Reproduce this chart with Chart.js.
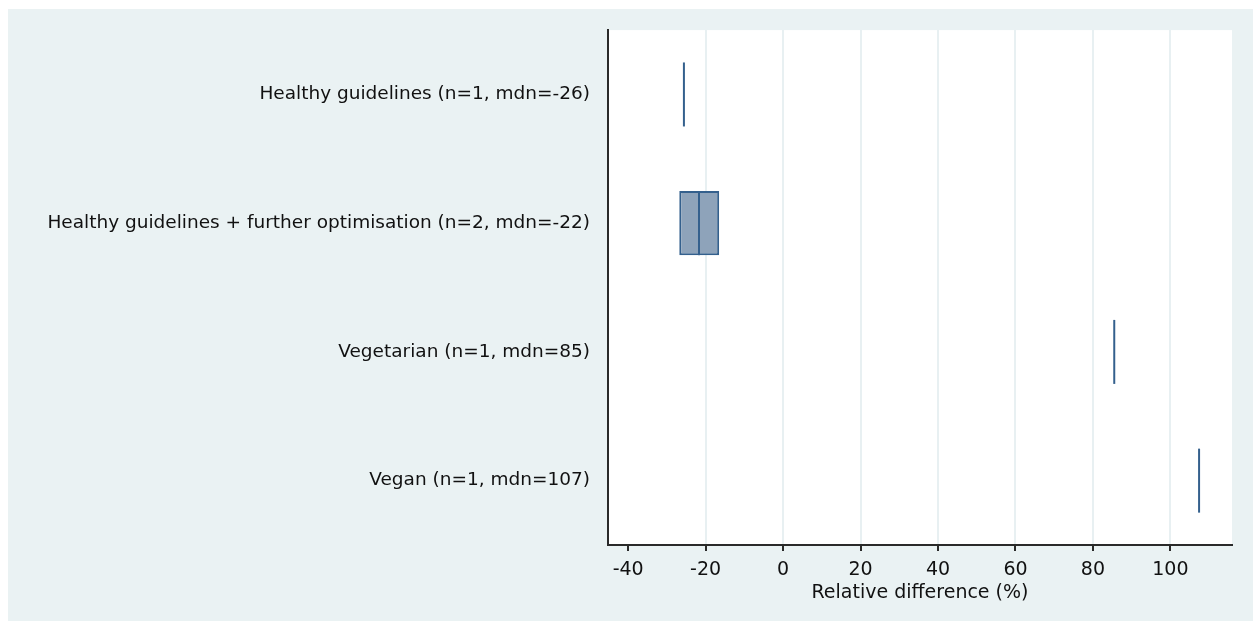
<!DOCTYPE html>
<html>
<head>
<meta charset="utf-8">
<title>Relative difference by diet</title>
<script src="https://cdn.jsdelivr.net/npm/chart.js@4.4.1/dist/chart.umd.min.js"></script>
<style>
  html, body { margin: 0; padding: 0; background: #fff; }
  #chart { position: absolute; left: 8px; top: 9px; background: #EAF2F3; }
</style>
</head>
<body>
<canvas id="chart" width="1245" height="612"></canvas>
<script>
// ---- DATA ----
const categories = [
  'Healthy guidelines (n=1, mdn=-26)',
  'Healthy guidelines + further optimisation (n=2, mdn=-22)',
  'Vegetarian (n=1, mdn=85)',
  'Vegan (n=1, mdn=107)'
];
const q1 = [-25.6, -26.8, 85.5, 107.4];
const q3 = [-25.6, -16.5, 85.5, 107.4];
const medians = [-25.6, -21.7, 85.5, 107.4];
const xTicks = [-40, -20, 0, 20, 40, 60, 80, 100];
const xMin = -45.2;
const xMax = 115.9;
const xTitle = 'Relative difference (%)';

// ---- STYLE ----
const BOX_FILL = '#8EA3BA';
const BOX_LINE = '#34608D';
const AXIS = '#2a2a2a';
const GRID = '#E8F0F2';
const TEXT = '#111';

// white plot region
const plotBg = {
  id: 'plotBg',
  beforeDraw(chart) {
    const { ctx, chartArea: a } = chart;
    ctx.save();
    ctx.fillStyle = '#fff';
    ctx.fillRect(a.left, a.top, a.right - a.left, a.bottom - a.top);
    ctx.restore();
  }
};

function initChart() {
  const canvas = document.getElementById('chart');
  new Chart(canvas, {
    type: 'bar',
    data: {
      labels: categories,
      datasets: [
        {
          type: 'bar',
          order: 1,
          data: q1.map((v, i) => [v, q3[i]]),
          backgroundColor: BOX_FILL,
          borderColor: BOX_LINE,
          borderWidth: 2,
          borderSkipped: false,
          inflateAmount: 0,
          barPercentage: 0.5,
          categoryPercentage: 1
        },
        {
          type: 'scatter',
          order: 0,
          data: medians.map((m, i) => ({ x: m, y: categories[i] })),
          pointStyle: 'line',
          rotation: 90,
          radius: 32,
          hoverRadius: 32,
          borderWidth: 2,
          borderColor: BOX_LINE,
          backgroundColor: BOX_LINE
        }
      ]
    },
    options: {
      indexAxis: 'y',
      responsive: false,
      devicePixelRatio: 1,
      animation: false,
      layout: { autoPadding: false, padding: { top: 21, right: 21, bottom: 0, left: 0 } },
      plugins: { legend: { display: false }, tooltip: { enabled: false } },
      scales: {
        x: {
          type: 'linear',
          min: xMin,
          max: xMax,
          afterBuildTicks: scale => { scale.ticks = xTicks.map(v => ({ value: v })); },
          afterFit: scale => { scale.height = 76; },
          grid: {
            color: ctx => (ctx.tick && ctx.tick.value === xTicks[0]) ? 'rgba(0,0,0,0)' : GRID,
            lineWidth: 2,
            drawTicks: true,
            tickLength: 6,
            tickColor: AXIS,
            tickWidth: 2
          },
          border: { display: true, color: AXIS, width: 2 },
          ticks: {
            color: TEXT,
            padding: 8,
            maxRotation: 0,
            font: { family: 'DejaVu Sans', size: 19 }
          },
          title: {
            display: true,
            text: xTitle,
            color: TEXT,
            padding: { top: 0, bottom: 17 },
            font: { family: 'DejaVu Sans', size: 19 }
          }
        },
        y: {
          type: 'category',
          afterFit: scale => { scale.width = 600; },
          grid: { display: false },
          border: { display: true, color: AXIS, width: 2 },
          ticks: {
            color: TEXT,
            padding: 10,
            font: { family: 'DejaVu Sans', size: 18.5 }
          }
        }
      }
    },
    plugins: [plotBg]
  });
}

document.addEventListener('DOMContentLoaded', initChart);
</script>
</body>
</html>
